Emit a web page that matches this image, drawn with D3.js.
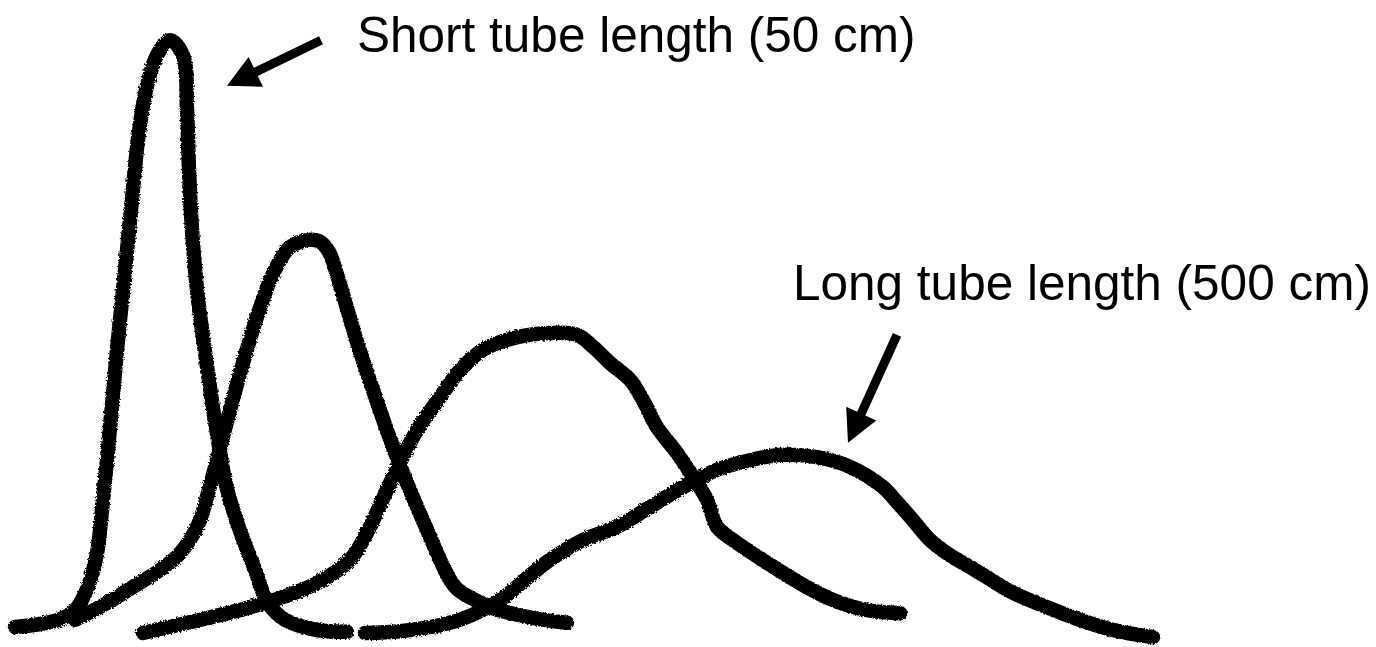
<!DOCTYPE html>
<html>
<head>
<meta charset="utf-8">
<script src="https://cdn.jsdelivr.net/npm/d3@7"></script>
<style>
  html, body { margin: 0; padding: 0; background: #fff; overflow: hidden; }
  .label { font-family: "Liberation Sans", Arial, sans-serif; font-size: 49.5px; fill: #000; }
</style>
</head>
<body>
<div id="chart"></div>
<script>
// elution time (s) and detector signal (% of tallest peak)
const shortTubeX = [7.5, 20, 30, 37.5, 44, 48.5, 51, 53.5, 56, 58.5, 61, 63.5, 66, 69, 73, 78.5, 85, 91.5, 93.5, 94.5, 96, 98.5, 102, 105.5, 109, 113, 119, 127.5, 134, 142.5, 158.5, 173.5];
const shortTubeY = [1.5, 2.0, 2.8, 4.3, 8.2, 13.8, 21.0, 29.3, 38.5, 47.7, 56.0, 64.3, 72.7, 82.7, 91.0, 96.8, 99.3, 96.8, 87.7, 77.7, 67.7, 57.7, 48.5, 40.2, 32.7, 25.2, 18.5, 11.0, 5.5, 2.7, 1.0, 0.7];

const tube2X = [37.5, 53.5, 66.5, 80, 90, 99, 104, 109, 115, 121.5, 128.5, 136, 144, 151, 159.5, 164.5, 168.5, 173, 179, 186, 192.5, 199, 206, 212.5, 227.5, 237.5, 245, 266.5, 283.5];
const tube2Y = [2.7, 5.5, 8.2, 11.0, 13.8, 18.5, 23.8, 30.0, 37.7, 45.5, 53.2, 60.0, 64.5, 65.8, 65.8, 64.0, 60.2, 55.2, 48.5, 41.5, 35.2, 29.3, 23.5, 18.5, 8.2, 6.0, 4.8, 3.0, 2.2];

const tube3X = [71.5, 100, 125, 141.5, 158.5, 175, 183.5, 190, 196.5, 208.5, 220, 230, 241.5, 258.5, 275, 288.5, 296.5, 305, 315, 321.5, 328.5, 338.5, 346.5, 353.5, 358.5, 366.5, 383.5, 400, 416.5, 433.5, 450];
const tube3Y = [0.5, 2.7, 4.8, 6.5, 8.8, 12.7, 17.2, 21.8, 26.5, 34.3, 39.8, 44.3, 47.7, 49.8, 50.5, 50.2, 48.2, 45.5, 42.7, 39.3, 34.8, 30.5, 26.5, 22.7, 18.2, 16.0, 12.2, 8.8, 6.0, 4.3, 3.8];

const longTubeX = [182.5, 200, 215, 230, 250, 266.5, 275, 291.5, 308.5, 325, 341.5, 358.5, 375, 391.5, 408.5, 425, 441.5, 448.5, 456.5, 465, 473.5, 490, 506.5, 523.5, 540, 556.5, 576.5];
const longTubeY = [0.5, 0.8, 1.5, 2.7, 6.0, 10.5, 12.7, 16.0, 18.2, 21.5, 24.8, 27.7, 29.3, 30.2, 29.8, 28.2, 24.8, 22.3, 19.3, 16.0, 13.8, 10.5, 7.2, 4.8, 2.7, 1.0, -0.2];

const seriesX = [shortTubeX, tube2X, tube3X, longTubeX];
const seriesY = [shortTubeY, tube2Y, tube3Y, longTubeY];

// annotations: label text, label anchor, arrow tail and arrow tip (data units)
const noteText = ["Short tube length (50 cm)", "Long tube length (500 cm)"];
const noteX = [178.5, 396.5];
const noteY = [97.3, 56];
const arrowFromX = [160.5, 448.5];
const arrowFromY = [99.3, 50.2];
const arrowToX = [113.5, 424];
const arrowToY = [91.7, 32.2];

const width = 1376,
  height = 647;

const svg = d3
  .select("#chart")
  .append("svg")
  .attr("width", width)
  .attr("height", height);

// a little turbulence so the strokes look drawn with a marker
const defs = svg.append("defs");
const rough = defs
  .append("filter")
  .attr("id", "rough")
  .attr("x", "-5%")
  .attr("y", "-5%")
  .attr("width", "110%")
  .attr("height", "110%");
rough
  .append("feTurbulence")
  .attr("type", "fractalNoise")
  .attr("baseFrequency", 0.55)
  .attr("numOctaves", 2)
  .attr("seed", 3)
  .attr("result", "noise");
rough
  .append("feDisplacementMap")
  .attr("in", "SourceGraphic")
  .attr("in2", "noise")
  .attr("scale", 3.5);

const x = d3.scaleLinear().domain([0, 688]).range([0, width]);
const y = d3.scaleLinear().domain([0, 100]).range([636, 36]);

const line = d3
  .line()
  .x((d) => x(d[0]))
  .y((d) => y(d[1]))
  .curve(d3.curveCatmullRom.alpha(0.5));

const curves = seriesX.map((xs, i) => xs.map((v, j) => [v, seriesY[i][j]]));

svg
  .append("g")
  .attr("filter", "url(#rough)")
  .selectAll("path.peak")
  .data(curves)
  .join("path")
  .attr("class", "peak")
  .attr("d", line)
  .attr("fill", "none")
  .attr("stroke", "#000")
  .attr("stroke-width", 14.5)
  .attr("stroke-linecap", "round")
  .attr("stroke-linejoin", "round");

// arrows
const arrowPath = (i) => {
  const x0 = x(arrowFromX[i]),
    y0 = y(arrowFromY[i]),
    x1 = x(arrowToX[i]),
    y1 = y(arrowToY[i]);
  const len = Math.hypot(x1 - x0, y1 - y0);
  const ux = (x1 - x0) / len,
    uy = (y1 - y0) / len;
  const px = -uy,
    py = ux;
  const headLen = 32,
    headHalf = 16.5,
    shaftHalf = 4.5;
  const bx = x1 - ux * headLen,
    by = y1 - uy * headLen;
  const pts = [
    [x0 + px * shaftHalf, y0 + py * shaftHalf],
    [bx + px * shaftHalf, by + py * shaftHalf],
    [bx + px * headHalf, by + py * headHalf],
    [x1, y1],
    [bx - px * headHalf, by - py * headHalf],
    [bx - px * shaftHalf, by - py * shaftHalf],
    [x0 - px * shaftHalf, y0 - py * shaftHalf],
  ];
  return "M" + pts.map((p) => p.join(",")).join("L") + "Z";
};

svg
  .selectAll("path.arrow")
  .data(noteText)
  .join("path")
  .attr("class", "arrow")
  .attr("d", (d, i) => arrowPath(i))
  .attr("fill", "#000");

svg
  .selectAll("text.label")
  .data(noteText)
  .join("text")
  .attr("class", "label")
  .attr("x", (d, i) => x(noteX[i]))
  .attr("y", (d, i) => y(noteY[i]))
  .text((d) => d);
</script>
</body>
</html>
